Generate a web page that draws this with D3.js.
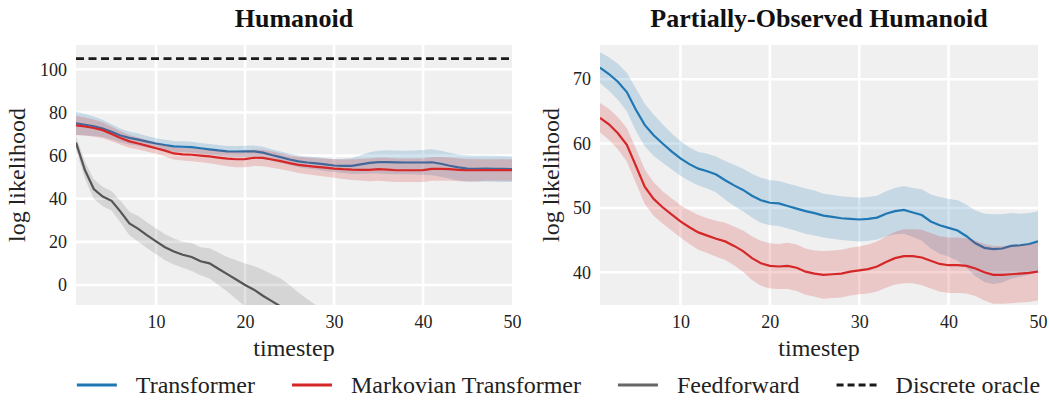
<!DOCTYPE html>
<html>
<head>
<meta charset="utf-8">
<script src="https://cdn.jsdelivr.net/npm/d3@7"></script>
<style>
  body { margin: 0; background: #fff; }
</style>
</head>
<body>
<svg id="chart" width="1049" height="400"></svg>
<script>
// ---- data ----
const timesteps = d3.range(1, 51);

const leftTransformer = [75.0,74.3,73.6,72.6,71.0,69.3,68.2,67.4,66.5,65.6,
  64.9,64.3,64.1,63.9,63.4,62.9,62.4,62.0,61.9,62.0,
  62.0,61.4,60.3,59.3,58.2,57.3,56.8,56.4,55.9,55.4,
  55.2,55.2,55.9,56.6,57.0,57.0,56.9,56.8,56.8,56.8,
  56.9,56.2,55.3,54.5,54.0,53.9,54.0,53.9,53.8,53.7];
const leftTransformerErr = [5.5,5.0,4.5,4.0,3.5,3.2,3.0,2.8,2.6,2.5,
  2.5,2.5,2.5,2.5,2.5,2.5,2.5,2.5,2.5,2.6,
  2.7,2.7,2.7,2.6,2.6,2.7,2.8,2.9,3.0,3.0,
  3.3,3.7,4.3,4.9,5.3,5.5,5.5,5.5,5.6,5.8,
  6.0,6.0,6.0,6.0,6.0,6.0,6.0,6.0,6.0,6.0];

const leftMarkov = [74.0,73.5,72.8,71.8,70.0,68.2,66.6,65.6,64.5,63.4,
  62.3,61.0,60.6,60.4,60.0,59.6,59.1,58.6,58.3,58.4,
  59.0,58.9,58.2,57.4,56.5,55.7,55.2,54.8,54.4,54.0,
  53.7,53.5,53.4,53.4,53.7,53.5,53.2,53.2,53.2,53.3,
  53.8,53.8,53.7,53.4,53.2,53.2,53.3,53.3,53.3,53.3];
const leftMarkovErr = [4.5,4.2,4.0,3.7,3.4,3.2,3.0,2.8,2.7,2.6,
  2.7,2.8,2.9,3.0,3.1,3.2,3.4,3.5,3.7,3.8,
  3.8,3.8,3.8,3.7,3.7,3.8,3.9,4.0,4.1,4.3,
  4.5,4.8,5.0,5.3,5.4,5.5,5.5,5.5,5.5,5.5,
  5.5,5.5,5.4,5.3,5.2,5.1,5.0,5.0,5.0,5.0];

// feedforward leaves the visible range after ~t=24
const leftFeedforward = [66,53.3,44.5,41,39,34,28.5,26,23,20.2,
  17.5,15.5,14,13,11,10,7.5,5,2.5,0,
  -2.2,-5,-7.5,-10,-13,-16,-19,-22,-25,-28];
const leftFeedforwardErr = [3,4,4.5,4.5,4.5,5,5.5,6,6,6,
  6,6,6,6.5,6.5,7,7.5,8,9,10,
  11,12,12.5,13,13,12.5,12.5,12.5,12.5,12.5];

const discreteOracle = 105;

const rightTransformer = [71.8,70.8,69.6,68.0,65.3,62.9,61.3,60.0,58.8,57.7,
  56.8,56.1,55.7,55.2,54.3,53.5,52.8,51.9,51.2,50.8,
  50.7,50.3,49.9,49.5,49.2,48.8,48.6,48.4,48.3,48.2,
  48.3,48.5,49.1,49.5,49.7,49.3,48.9,47.9,47.3,46.9,
  46.5,45.6,44.5,43.8,43.6,43.7,44.1,44.2,44.4,44.8];
const rightTransformerErr = [2.4,2.6,2.8,3.0,3.3,3.3,3.2,3.0,2.8,2.7,
  2.6,2.6,2.7,2.8,3.0,3.2,3.3,3.4,3.5,3.5,
  3.5,3.5,3.5,3.5,3.5,3.4,3.4,3.4,3.4,3.4,
  3.4,3.4,3.5,3.6,3.7,3.8,4.0,4.2,4.4,4.5,
  4.7,4.9,5.1,5.3,5.4,5.3,5.1,4.9,4.8,4.7];

const rightMarkov = [64.0,63.0,61.6,59.8,56.6,53.3,51.4,50.1,49.0,47.9,
  47.0,46.2,45.7,45.2,44.8,44.1,43.3,42.2,41.4,41.0,
  40.9,41.0,40.7,40.1,39.8,39.6,39.7,39.8,40.1,40.3,
  40.5,40.9,41.6,42.2,42.5,42.5,42.3,41.8,41.3,41.1,
  41.1,41.0,40.6,40.0,39.6,39.6,39.7,39.8,39.9,40.1];
const rightMarkovErr = [2.3,2.4,2.5,2.6,2.7,2.7,2.6,2.5,2.5,2.5,
  2.6,2.7,2.7,2.8,2.9,3.0,3.2,3.4,3.5,3.5,
  3.5,3.6,3.6,3.6,3.6,3.7,3.7,3.7,3.7,3.7,
  3.8,3.9,4.0,4.1,4.2,4.2,4.3,4.3,4.3,4.3,
  4.3,4.3,4.3,4.4,4.5,4.5,4.5,4.5,4.5,4.5];

const xTicks = [10, 20, 30, 40, 50];
const leftYTicks = [0, 20, 40, 60, 80, 100];
const rightYTicks = [40, 50, 60, 70];

const legendLabels = ["Transformer", "Markovian Transformer", "Feedforward", "Discrete oracle"];
const COLORS = { transformer: "#1f77b4", markov: "#d62728", ff: "#555555", oracle: "#1a1a1a" };
const FONT = "Liberation Serif";
const TEXT = "#222";

// ---- drawing ----
const svg = d3.select("#chart").attr("font-family", FONT);

function drawPanel({ id, left, right, top, bottom, yDomain, yTicks, title, series, oracle, labelX }) {
  const x = d3.scaleLinear().domain([1, 50]).range([left, right]);
  const y = d3.scaleLinear().domain(yDomain).range([bottom, top]);
  const g = svg.append("g");

  g.append("rect")
    .attr("x", left).attr("y", top)
    .attr("width", right - left).attr("height", bottom - top)
    .attr("fill", "#f0f0f0");

  // white grid
  g.append("g").selectAll("line")
    .data(xTicks.filter((t) => x(t) < right - 1))
    .join("line")
    .attr("x1", (d) => x(d)).attr("x2", (d) => x(d))
    .attr("y1", top).attr("y2", bottom)
    .attr("stroke", "#fff").attr("stroke-width", 2.6);
  g.append("g").selectAll("line")
    .data(yTicks)
    .join("line")
    .attr("x1", left).attr("x2", right)
    .attr("y1", (d) => y(d)).attr("y2", (d) => y(d))
    .attr("stroke", "#fff").attr("stroke-width", 2.6);

  svg.append("clipPath").attr("id", id)
    .append("rect")
    .attr("x", left).attr("y", top)
    .attr("width", right - left).attr("height", bottom - top);

  const plot = g.append("g").attr("clip-path", `url(#${id})`);

  series.forEach((s) => {
    const pts = s.values.map((v, i) => ({ t: timesteps[i], v, e: s.err[i] }));
    plot.append("path")
      .datum(pts)
      .attr("fill", s.color)
      .attr("fill-opacity", s.bandOpacity)
      .attr("d", d3.area().x((d) => x(d.t)).y0((d) => y(d.v - d.e)).y1((d) => y(d.v + d.e)));
    plot.append("path")
      .datum(pts)
      .attr("fill", "none")
      .attr("stroke", s.color)
      .attr("stroke-width", 2.2)
      .attr("d", d3.line().x((d) => x(d.t)).y((d) => y(d.v)));
  });

  if (oracle != null) {
    plot.append("line")
      .attr("x1", left).attr("x2", right)
      .attr("y1", y(oracle)).attr("y2", y(oracle))
      .attr("stroke", COLORS.oracle)
      .attr("stroke-width", 2.8)
      .attr("stroke-dasharray", "8,4.5");
  }

  // axes
  const ax = g.append("g")
    .attr("transform", `translate(0,${bottom})`)
    .call(d3.axisBottom(x).tickValues(xTicks).tickSize(0).tickPadding(10));
  const ay = g.append("g")
    .attr("transform", `translate(${left},0)`)
    .call(d3.axisLeft(y).tickValues(yTicks).tickSize(0).tickPadding(9));
  [ax, ay].forEach((a) => {
    a.attr("font-family", FONT).attr("font-size", 18);
    a.select(".domain").remove();
    a.selectAll("text").attr("fill", TEXT);
  });

  g.append("text")
    .attr("x", (left + right) / 2).attr("y", 356)
    .attr("text-anchor", "middle")
    .attr("font-size", 24).attr("fill", TEXT)
    .text("timestep");

  g.append("text")
    .attr("transform", `translate(${labelX},${(top + bottom) / 2}) rotate(-90)`)
    .attr("text-anchor", "middle")
    .attr("font-size", 24).attr("fill", TEXT)
    .text("log likelihood");

  g.append("text")
    .attr("x", (left + right) / 2).attr("y", 27)
    .attr("text-anchor", "middle")
    .attr("font-size", 26).attr("font-weight", "bold").attr("fill", "#111")
    .text(title);
}

drawPanel({
  id: "clipL", left: 76, right: 512, top: 45, bottom: 305,
  yDomain: [-9.3, 111.3], yTicks: leftYTicks, title: "Humanoid", labelX: 25,
  oracle: discreteOracle,
  series: [
    { values: leftTransformer, err: leftTransformerErr, color: COLORS.transformer, bandOpacity: 0.2 },
    { values: leftMarkov, err: leftMarkovErr, color: COLORS.markov, bandOpacity: 0.2 },
    { values: leftFeedforward, err: leftFeedforwardErr, color: COLORS.ff, bandOpacity: 0.17 },
  ],
});

drawPanel({
  id: "clipR", left: 600, right: 1038, top: 45, bottom: 305,
  yDomain: [34.92, 75.31], yTicks: rightYTicks, title: "Partially-Observed Humanoid", labelX: 559,
  oracle: null,
  series: [
    { values: rightTransformer, err: rightTransformerErr, color: COLORS.transformer, bandOpacity: 0.2 },
    { values: rightMarkov, err: rightMarkovErr, color: COLORS.markov, bandOpacity: 0.2 },
  ],
});

// legend, centred under both panels
const legendColors = [COLORS.transformer, COLORS.markov, "#666666", COLORS.oracle];
const lg = svg.append("g");
let cx = 0;
legendLabels.forEach((label, i) => {
  const item = lg.append("g").attr("transform", `translate(${cx},0)`);
  item.append("line")
    .attr("x1", 0).attr("x2", 40).attr("y1", 0).attr("y2", 0)
    .attr("stroke", legendColors[i])
    .attr("stroke-width", 3)
    .attr("stroke-dasharray", i === 3 ? "7,4" : null);
  const t = item.append("text")
    .attr("x", 59).attr("y", 8)
    .attr("font-family", FONT).attr("font-size", 24).attr("fill", TEXT)
    .text(label);
  cx += 59 + t.node().getComputedTextLength() + 37;
});
const lgWidth = cx - 37;
lg.attr("transform", `translate(${558.5 - lgWidth / 2},385)`);
</script>
</body>
</html>
